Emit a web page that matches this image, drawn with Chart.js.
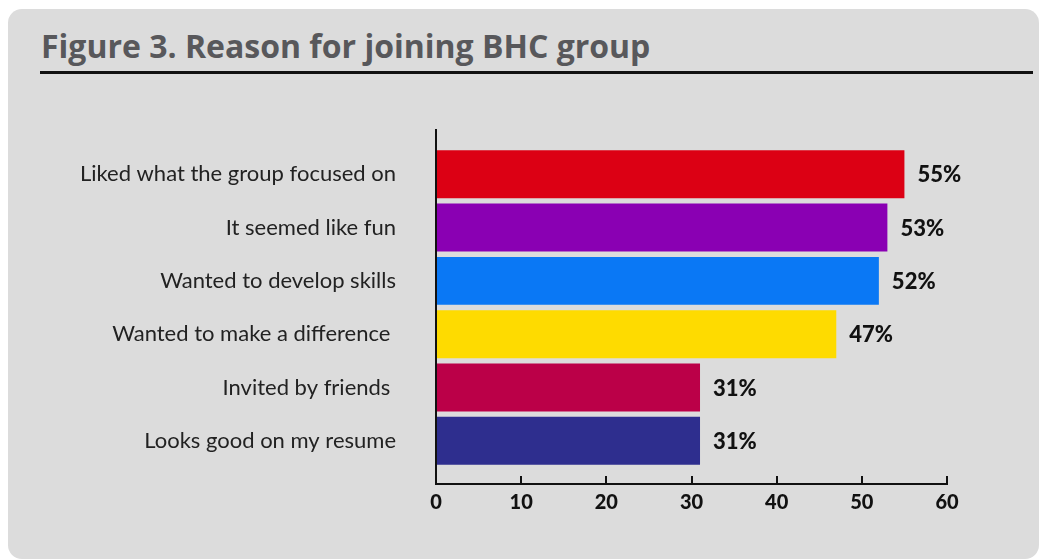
<!DOCTYPE html>
<html>
<head>
<meta charset="utf-8">
<script src="https://cdn.jsdelivr.net/npm/chart.js@4"></script>
<style>
  html, body { margin: 0; padding: 0; background: #fff; }
  body { width: 1042px; height: 560px; position: relative; overflow: hidden; }
  .panel {
    position: absolute; left: 8px; top: 9px; width: 1031px; height: 550px;
    background: #dcdcdc; border-radius: 14px;
  }
  .title {
    position: absolute; left: 41px; top: 28px;
    font: 700 32px "Open Sans", sans-serif; color: #58585b; letter-spacing: 0;
    line-height: 36px; white-space: nowrap;
  }
  .rule { position: absolute; left: 40px; top: 71px; width: 993px; height: 3px; background: #111; }
  #chart { position: absolute; left: 0; top: 0; }
</style>
</head>
<body>
<div class="panel"></div>
<div class="title">Figure 3. Reason for joining BHC group</div>
<div class="rule"></div>
<canvas id="chart" width="1042" height="560"></canvas>
<script>
// --- data ---
const categories = [
  'Liked what the group focused on',
  'It seemed like fun',
  'Wanted to develop skills',
  'Wanted to make a difference ',
  'Invited by friends ',
  'Looks good on my resume'
];
const percents = [55, 53, 52, 47, 31, 31];
const barColors = ['#dc0014', '#8a00b3', '#0a78f5', '#fedb00', '#bb0048', '#2e2e8e'];
const xTicks = [0, 10, 20, 30, 40, 50, 60];

// draw the "55%" style labels next to each bar
const valueLabels = {
  id: 'valueLabels',
  afterDatasetsDraw(chart) {
    const ctx = chart.ctx;
    const meta = chart.getDatasetMeta(0);
    ctx.save();
    ctx.font = '900 22px Lato, sans-serif';
    ctx.fillStyle = '#111';
    ctx.textAlign = 'left';
    ctx.textBaseline = 'middle';
    meta.data.forEach((bar, i) => {
      ctx.fillText(percents[i] + '%', bar.x + 13, bar.y + 1);
    });
    ctx.restore();
  }
};

const ctx = document.getElementById('chart').getContext('2d');
new Chart(ctx, {
  type: 'bar',
  data: {
    datasets: [{
      data: percents.map((v, i) => ({ x: v, y: i })),
      backgroundColor: barColors,
      borderWidth: 0,
      categoryPercentage: 1,
      barPercentage: 0.9
    }]
  },
  options: {
    indexAxis: 'y',
    responsive: false,
    animation: false,
    layout: { padding: { top: 130, bottom: 16, left: 0, right: 95 } },
    plugins: {
      legend: { display: false },
      tooltip: { enabled: false }
    },
    scales: {
      y: {
        type: 'linear',
        reverse: true,
        offset: false,
        min: -0.83,
        max: 5.81,
        afterBuildTicks: (s) => { s.ticks = categories.map((_, i) => ({ value: i })); },
        afterFit: (s) => { s.width = 436; },
        grid: { display: false, drawTicks: false },
        border: { display: true, color: '#111', width: 2 },
        ticks: {
          padding: 40,
          color: '#222',
          font: { family: 'Lato', size: 22 },
          callback: (v, i) => categories[i]
        }
      },
      x: {
        type: 'linear',
        min: 0,
        max: 60,
        afterBuildTicks: (s) => { s.ticks = xTicks.map(v => ({ value: v })); },
        afterFit: (s) => { s.height = 60; },
        grid: {
          display: true,
          drawOnChartArea: false,
          drawTicks: true,
          tickLength: -8,
          color: '#111',
          lineWidth: 2
        },
        border: { display: true, color: '#111', width: 2 },
        ticks: {
          padding: 15,
          color: '#111',
          font: { family: 'Lato', size: 20, weight: '900' }
        }
      }
    }
  },
  plugins: [valueLabels]
});
</script>
</body>
</html>
